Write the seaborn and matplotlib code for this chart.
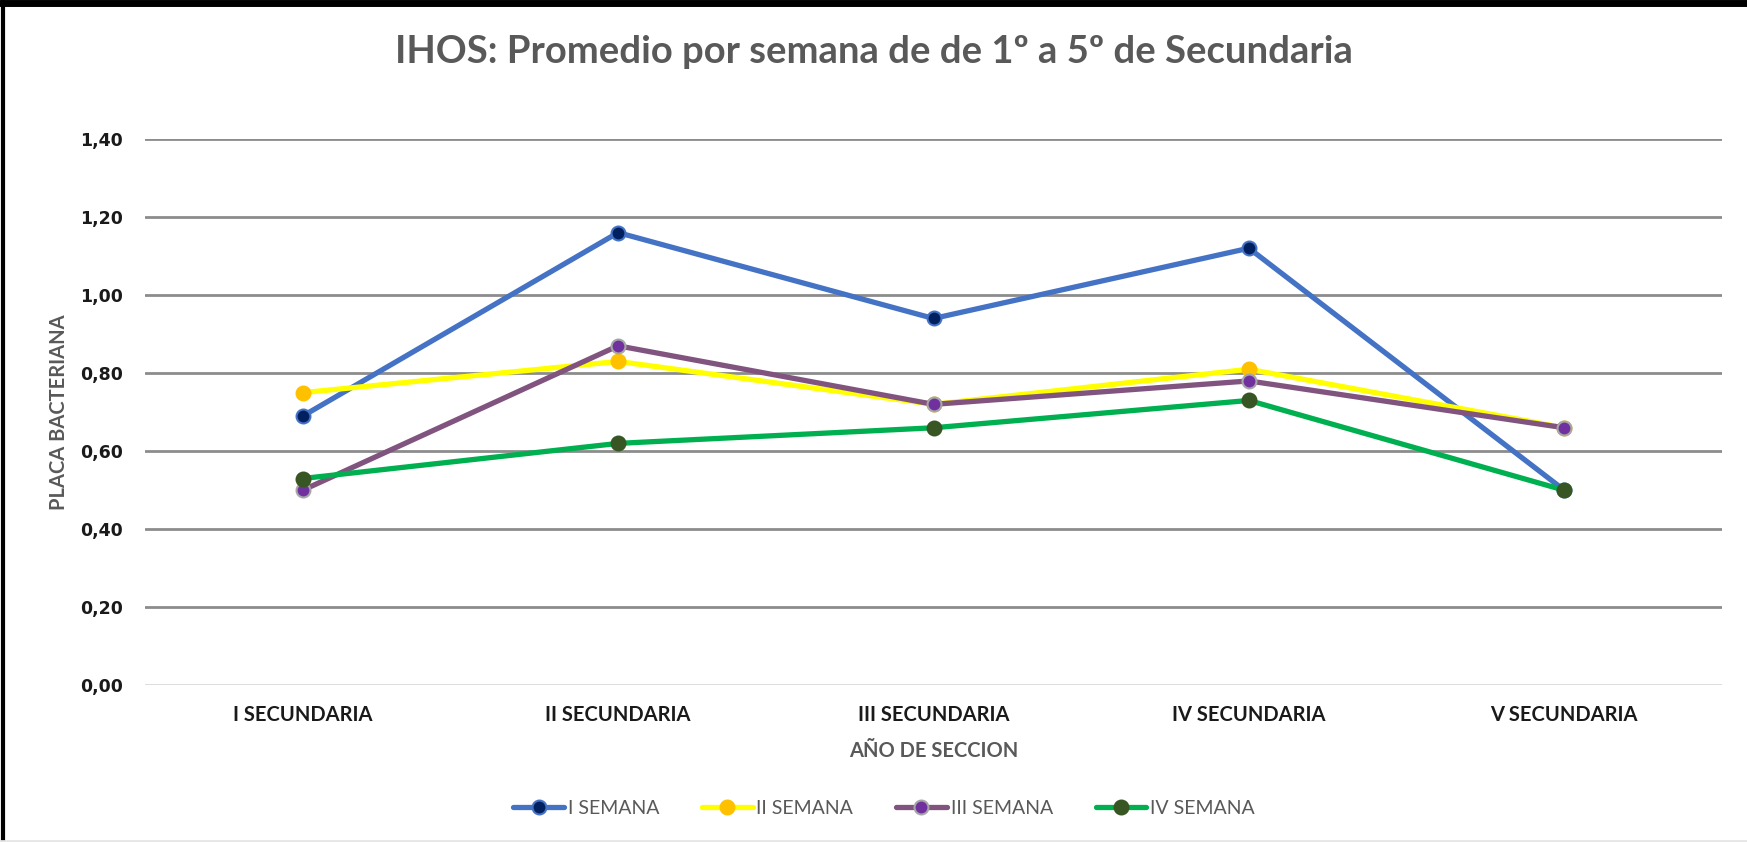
import matplotlib
matplotlib.use("Agg")
import matplotlib.pyplot as plt
import seaborn as sns
import pandas as pd
from matplotlib.lines import Line2D

categories = ["I SECUNDARIA", "II SECUNDARIA", "III SECUNDARIA", "IV SECUNDARIA", "V SECUNDARIA"]
series_names = ["I SEMANA", "II SEMANA", "III SEMANA", "IV SEMANA"]
semana_1 = [0.69, 1.16, 0.94, 1.12, 0.50]
semana_2 = [0.75, 0.83, 0.72, 0.81, 0.66]
semana_3 = [0.50, 0.87, 0.72, 0.78, 0.66]
semana_4 = [0.53, 0.62, 0.66, 0.73, 0.50]
y_ticks = [0.0, 0.2, 0.4, 0.6, 0.8, 1.0, 1.2, 1.4]

line_colors = ["#4472C4", "#FFFF00", "#815480", "#00B050"]
face_colors = ["#002060", "#FFC000", "#7030A0", "#375623"]
edge_colors = ["#4472C4", "#FFC000", "#A6A6A6", "#375623"]

sns.set_theme(style="white")
plt.rcParams['font.family'] = ['Lato', 'DejaVu Sans']

fig = plt.figure(figsize=(17.47, 8.42), dpi=100)
ax = fig.add_axes([0.083, 0.186, 0.9027, 0.649])

all_series = [semana_1, semana_2, semana_3, semana_4]
for name, vals, lc, fc, ec in zip(series_names, all_series, line_colors, face_colors, edge_colors):
    df = pd.DataFrame({"cat": categories, "val": vals})
    sns.lineplot(data=df, x="cat", y="val", ax=ax, color=lc, linewidth=3.8,
                 marker="o", markersize=10, markerfacecolor=fc, markeredgecolor=ec,
                 markeredgewidth=1.5, label=name, legend=False, sort=False, zorder=3)

ax.set_xlim(-0.5, len(categories) - 0.5)
ax.set_ylim(0, 1.4)
ax.set_yticks(y_ticks)
ax.set_yticklabels([f"{v:.2f}".replace(".", ",") for v in y_ticks])
for lbl in ax.get_yticklabels():
    lbl.set_fontfamily("DejaVu Sans")
    lbl.set_fontweight("bold")
    lbl.set_fontsize(12.5)
    lbl.set_color("#1a1a1a")
ax.set_xticks(range(len(categories)))
ax.set_xticklabels(categories, fontweight="bold", fontsize=14.5, color="#1a1a1a")
ax.tick_params(axis="y", pad=16, length=0)
ax.tick_params(axis="x", pad=14, length=0)

for v in y_ticks:
    ax.axhline(v, color="#D9D9D9" if v == 0 else "#8C8C8C", linewidth=2, zorder=1)
ax.grid(False)
for s in ax.spines.values():
    s.set_visible(False)

ax.set_xlabel("AÑO DE SECCION", fontsize=14.5, fontweight="bold", color="#595959", labelpad=12)
ax.set_ylabel("PLACA BACTERIANA", fontsize=14.5, fontweight="bold", color="#595959", labelpad=8)

fig.text(0.5, 0.938, "IHOS: Promedio por semana de de 1º a 5º de Secundaria",
         ha="center", va="center", fontsize=27.5, fontweight="bold", color="#595959")

handles, labels = ax.get_legend_handles_labels()
fig.legend(handles, labels, loc="center", bbox_to_anchor=(0.506, 0.04), ncol=4, frameon=False,
           fontsize=14, labelcolor="#595959", handlelength=2.6, columnspacing=2.2, handletextpad=0.2)

fig.add_artist(Line2D([0, 1], [0.996, 0.996], transform=fig.transFigure, color="black", linewidth=5))
fig.add_artist(Line2D([0.0015, 0.0015], [0, 1], transform=fig.transFigure, color="black", linewidth=3))
fig.add_artist(Line2D([0, 1], [0.001, 0.001], transform=fig.transFigure, color="#E6E6E6", linewidth=2))

fig.savefig("out.png", dpi=100)
